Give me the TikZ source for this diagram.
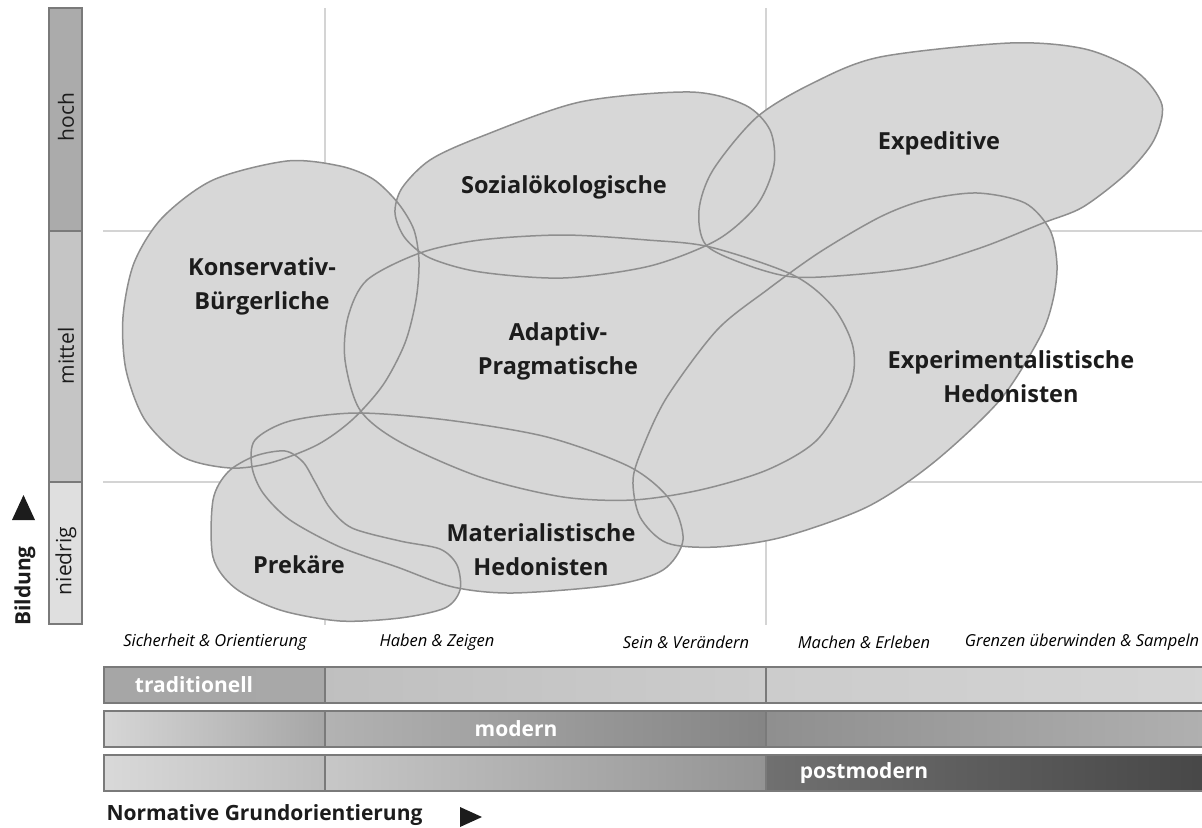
\documentclass[tikz,border=0pt]{standalone}
\usepackage{fontspec}
\setmainfont{Open Sans}
\definecolor{GrisMilieu}{HTML}{D7D7D7}
\definecolor{GrisContour}{HTML}{8E8E8E}
\definecolor{GrisGrille}{HTML}{D4D4D4}
\definecolor{GrisCadre}{HTML}{7A7A7A}
\definecolor{GrisHoch}{HTML}{ABABAB}
\definecolor{GrisMittel}{HTML}{C5C5C5}
\definecolor{GrisNiedrig}{HTML}{DFDFDF}
\definecolor{Encre}{HTML}{1C1C1C}
\tikzset{
	milieu/.style={draw=GrisContour, line width=1.5bp},
	grille/.style={GrisGrille, line width=1.6bp},
	cadre/.style={draw=GrisCadre, line width=1.1bp},
	nom/.style={font=\fontsize{23.5bp}{34bp}\selectfont\bfseries, text=Encre, align=center},
	valeur/.style={font=\fontsize{16.5bp}{18bp}\selectfont\itshape, text=black},
	niveau/.style={font=\fontsize{21bp}{24bp}\selectfont, text=Encre, rotate=90},
	titre/.style={font=\fontsize{21bp}{24bp}\selectfont\bfseries, text=Encre},
	bande/.style={font=\fontsize{21bp}{24bp}\selectfont\bfseries, text=white}
}

\begin{document}
\begin{tikzpicture}[x=1bp, y=-1bp]
	\useasboundingbox (0,0) rectangle (1202,828);
	%
	% grille
	\draw[grille] (325,8) -- (325,625) (766,8) -- (766,625);
	\draw[grille] (103,231) -- (1202,231) (103,482) -- (1202,482);
	%
	% Milieus
	\path[save path=\pKons] plot[smooth cycle] coordinates {(287,161) (340,166) (373,179) (398,203) (414,230) (419,262) (416,300) (405,343) (383,385) (352,420) (317,445) (270,463) (230,468) (183,457) (145,420) (126,370) (123,317) (134,263) (162,218) (213,180)};
	\path[save path=\pSozi] plot[smooth cycle] coordinates {(395,213) (402,188) (430,160) (480,137) (580,102) (690,92) (745,105) (770,130) (774,165) (757,205) (717,240) (650,266) (563,278) (480,272) (430,258) (405,238)};
	\path[save path=\pExpe] plot[smooth cycle] coordinates {(706,245) (699,210) (713,170) (757,117) (813,83) (880,57) (1010,43) (1085,49) (1137,72) (1162,105) (1154,140) (1127,173) (1083,207) (1043,223) (983,247) (917,267) (850,275) (793,277) (747,265)};
	\path[save path=\pExHe] plot[smooth cycle] coordinates {(977,193) (1025,203) (1050,230) (1057,265) (1053,300) (1040,337) (1000,400) (933,463) (867,507) (783,537) (717,547) (667,543) (640,517) (633,480) (643,447) (667,397) (717,330) (767,290) (820,252) (880,217) (925,200)};
	\path[save path=\pAdap] plot[smooth cycle] coordinates {(420,253) (480,240) (563,235) (647,240) (710,247) (793,275) (833,307) (853,347) (850,387) (817,440) (767,470) (700,490) (633,500) (563,497) (480,477) (400,442) (360,410) (345,360) (348,317) (367,280)};
	\path[save path=\pMate] plot[smooth cycle] coordinates {(357,413) (447,420) (547,437) (630,467) (670,500) (683,540) (663,570) (613,585) (513,593) (453,587) (397,567) (340,547) (290,520) (263,493) (252,467) (255,440) (290,421)};
	\path[save path=\pPrek] plot[smooth cycle] coordinates {(213,500) (228,472) (255,456) (285,451) (303,462) (315,482) (330,508) (352,528) (400,541) (440,549) (457,565) (460,590) (445,608) (400,618) (340,621) (280,610) (235,588) (213,557)};
	%
	\foreach \p in {\pKons,\pSozi,\pExpe,\pExHe,\pAdap,\pMate,\pPrek}
		\fill[GrisMilieu, use path=\p];
	\foreach \p in {\pKons,\pSozi,\pExpe,\pExHe,\pAdap,\pMate,\pPrek}
		\draw[milieu, use path=\p];
	%
	\node[nom] (kons) at (262,286) {Konservativ-\\Bürgerliche};
	\node[nom] (sozi) at (564,187) {Sozialökologische};
	\node[nom] (expe) at (939,143) {Expeditive};
	\node[nom] (adap) at (558,351) {Adaptiv-\\Pragmatische};
	\node[nom] (exhe) at (1011,377) {Experimentalistische\\Hedonisten};
	\node[nom] (mate) at (541,550) {Materialistische\\Hedonisten};
	\node[nom] (prek) at (299,565) {Prekäre};
	%
	% Bildung
	\draw[cadre, fill=GrisHoch] (49,8) rectangle (82,231);
	\draw[cadre, fill=GrisMittel] (49,231) rectangle (82,482);
	\draw[cadre, fill=GrisNiedrig] (49,482) rectangle (82,624);
	\node[niveau] (hoch) at (66,117) {hoch};
	\node[niveau] (mittel) at (66,356) {mittel};
	\node[niveau] (niedrig) at (66,561) {niedrig};
	\node[titre, rotate=90] (bildung) at (25,586) {Bildung};
	\fill[Encre] (12,520) -- (35,520) -- (23.5,495) -- cycle;
	%
	% Grundorientierung
	\node[valeur] (sicher) at (215,642) {Sicherheit \& Orientierung};
	\node[valeur] (haben) at (437,642) {Haben \& Zeigen};
	\node[valeur] (sein) at (686,642) {Sein \& Verändern};
	\node[valeur] (machen) at (864,642) {Machen \& Erleben};
	\node[valeur] (grenzen) at (1082,642) {Grenzen überwinden \& Sampeln};
	%
	\shade[left color=black!35, right color=black!34] (104,667) rectangle (325,703);
	\shade[left color=black!25, right color=black!20] (325,667) rectangle (766,703);
	\shade[left color=black!20, right color=black!17] (766,667) rectangle (1203,703);
	%
	\shade[left color=black!16, right color=black!35] (104,711) rectangle (325,747);
	\shade[left color=black!30, right color=black!48] (325,711) rectangle (766,747);
	\shade[left color=black!44, right color=black!31] (766,711) rectangle (1203,747);
	%
	\shade[left color=black!15, right color=black!26] (104,755) rectangle (325,791);
	\shade[left color=black!22, right color=black!42] (325,755) rectangle (766,791);
	\shade[left color=black!56, right color=black!72] (766,755) rectangle (1203,791);
	%
	\foreach \y in {667,711,755}{
		\draw[cadre] (104,\y) rectangle (1203,\y+36);
		\draw[cadre] (325,\y) -- (325,\y+36) (766,\y) -- (766,\y+36);
	}
	\node[bande] (trad) at (194,685) {traditionell};
	\node[bande] (modern) at (516,729) {modern};
	\node[bande] (post) at (864,773) {postmodern};
	%
	\node[titre, anchor=west] (norm) at (103,815) {Normative Grundorientierung};
	\fill[Encre] (460,807) -- (460,827) -- (482,817) -- cycle;
\end{tikzpicture}
\end{document}
